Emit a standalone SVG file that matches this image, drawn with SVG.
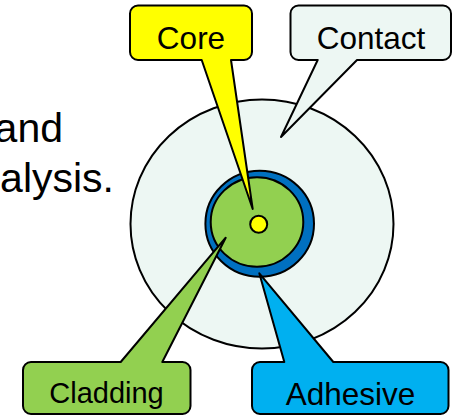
<svg xmlns="http://www.w3.org/2000/svg" width="454" height="415" viewBox="0 0 454 415">
<style>
text{font-family:"Liberation Sans",Arial,sans-serif;fill:#000;text-anchor:middle}
.s{stroke:#000;stroke-width:2;stroke-linejoin:round}
.b{font-size:41px;text-anchor:end}
</style>
<rect width="454" height="415" fill="#fff"/>
<g id="caption"><text class="b" x="63" y="142">and</text><text class="b" x="114" y="192">alysis.</text></g>
<g id="contact-disc"><ellipse class="s" cx="262" cy="224" rx="131.500" ry="124.500" fill="#edf7f3"/></g>
<g id="adhesive-ring"><ellipse class="s" cx="259.700" cy="223.700" rx="54.300" ry="53" fill="#0070c0"/></g>
<g id="cladding-disc"><ellipse class="s" cx="257" cy="222" rx="46.300" ry="44.700" fill="#92d050"/></g>
<g id="core-dot"><circle class="s" cx="258.700" cy="224.300" r="8.500" fill="#ff0"/></g>
<g id="core"><path class="s" fill="#ff0" d="M138 5.500H244a8 8 0 0 1 8 8V52a8 8 0 0 1-8 8H231L252.700 209L201.700 60H138a8 8 0 0 1-8-8V13.500a8 8 0 0 1 8-8Z"/><text x="191" y="49" font-size="31.500">Core</text></g>
<g id="contact"><path class="s" fill="#edf7f3" d="M298.500 5.500H443a8 8 0 0 1 8 8V52a8 8 0 0 1-8 8H357L281 137L317.700 60H298.500a8 8 0 0 1-8-8V13.500a8 8 0 0 1 8-8Z"/><text x="371" y="49" font-size="31.500">Contact</text></g>
<g id="cladding"><path class="s" fill="#92d050" d="M31 362H120.700L225.700 237.700L162.300 362H182.500a8 8 0 0 1 8 8V406a8 8 0 0 1-8 8H31a8 8 0 0 1-8-8V370a8 8 0 0 1 8-8Z"/><text x="106.500" y="403" font-size="29">Cladding</text></g>
<g id="adhesive"><path class="s" fill="#00b0f0" d="M260 362H284.300L259.300 273.300L333.300 362H440.500a8 8 0 0 1 8 8V406a8 8 0 0 1-8 8H260a8 8 0 0 1-8-8V370a8 8 0 0 1 8-8Z"/><text x="350.500" y="405" font-size="31.500">Adhesive</text></g>
<g id="connectors"></g>
</svg>
